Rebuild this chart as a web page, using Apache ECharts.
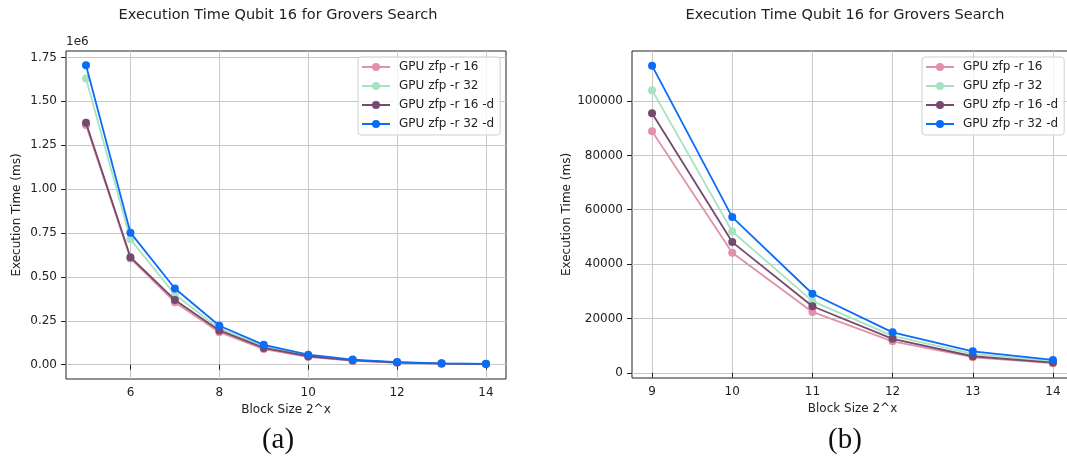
<!DOCTYPE html>
<html>
<head>
<meta charset="utf-8">
<script src="https://cdn.jsdelivr.net/npm/echarts@6/dist/echarts.min.js"></script>
<style>
  html, body { margin: 0; padding: 0; background: #fff; }
  #chart { width: 1067px; height: 461px; }
</style>
</head>
<body>
<div id="chart"></div>
<script>
// Block sizes (exponent x of 2^x) and execution times in ms
const blockSizes = [5, 6, 7, 8, 9, 10, 11, 12, 13, 14];
const zoomBlockSizes = [9, 10, 11, 12, 13, 14];

const seriesNames = ['GPU zfp -r 16', 'GPU zfp -r 32', 'GPU zfp -r 16 -d', 'GPU zfp -r 32 -d'];
const seriesColors = ['#e291a8', '#a8e2c2', '#744a6e', '#0a6cf7'];

const timeR16  = [1365000, 605000, 356000, 185000, 88900, 44200, 22400, 11600, 5740, 3550];
const timeR32  = [1630000, 714000, 400000, 205000, 104000, 52000, 26400, 13600, 6950, 4280];
const timeR16d = [1378000, 612000, 369000, 195000, 95500, 48100, 24500, 12500, 6100, 3770];
const timeR32d = [1705000, 752000, 434000, 222000, 113000, 57300, 29100, 14900, 7930, 4750];

const fullXTicks = [6, 8, 10, 12, 14];
const zoomXTicks = [9, 10, 11, 12, 13, 14];
const fullYTicks = [0, 250000, 500000, 750000, 1000000, 1250000, 1500000, 1750000];
const zoomYTicks = [0, 20000, 40000, 60000, 80000, 100000];

const chartTitle = 'Execution Time Qubit 16 for Grovers Search';
const xName = 'Block Size 2^x';
const yName = 'Execution Time (ms)';

const FONT = 'DejaVu Sans';
const INK = '#222';
const allSeries = [timeR16, timeR32, timeR16d, timeR32d];

function xAxisCfg(gridIndex, min, max, ticks) {
  return {
    gridIndex, type: 'value', min, max,
    axisLine: { show: false },
    axisTick: { show: true, length: 5, customValues: ticks, lineStyle: { color: INK, width: 1 } },
    axisLabel: { customValues: ticks, margin: 8, fontSize: 12, color: INK, fontFamily: FONT },
    splitLine: { show: true, lineStyle: { color: '#c8c8c8', width: 1 } },
    name: xName, nameLocation: 'middle', nameGap: 24,
    nameTextStyle: { fontSize: 12, color: INK, fontFamily: FONT }
  };
}

function yAxisCfg(gridIndex, min, max, ticks, fmt, gap) {
  return {
    gridIndex, type: 'value', min, max,
    axisLine: { show: false },
    axisTick: { show: true, length: 5, customValues: ticks, lineStyle: { color: INK, width: 1 } },
    axisLabel: { customValues: ticks, margin: 9, fontSize: 12, color: INK, fontFamily: FONT, formatter: fmt },
    splitLine: { show: true, lineStyle: { color: '#c8c8c8', width: 1 } },
    name: yName, nameLocation: 'middle', nameGap: gap, nameRotate: 90,
    nameTextStyle: { fontSize: 12, color: INK, fontFamily: FONT }
  };
}

function lineSeries(idx, axisIndex, xs) {
  const vals = allSeries[idx];
  return {
    type: 'line',
    name: seriesNames[idx],
    xAxisIndex: axisIndex, yAxisIndex: axisIndex,
    data: xs.map(b => [b, vals[blockSizes.indexOf(b)]]),
    symbol: 'circle', symbolSize: 8, showSymbol: true,
    lineStyle: { color: seriesColors[idx], width: 1.8 },
    itemStyle: { color: seriesColors[idx] },
    emphasis: { disabled: true },
    z: 2 + idx
  };
}

function legendCfg(left) {
  return {
    left, top: 57, orient: 'vertical', data: seriesNames,
    itemWidth: 28, itemHeight: 10, itemGap: 7,
    padding: [4, 6, 5, 3],
    borderColor: '#cfcfcf', borderWidth: 1, borderRadius: 3,
    backgroundColor: 'rgba(255,255,255,0.8)',
    selectedMode: false,
    textStyle: { fontSize: 12, color: INK, fontFamily: FONT, padding: [0, 0, 0, 4] }
  };
}

const series = [];
for (let i = 0; i < 4; i++) series.push(lineSeries(i, 0, blockSizes));
for (let i = 0; i < 4; i++) series.push(lineSeries(i, 1, zoomBlockSizes));

const chart = echarts.init(document.getElementById('chart'), null, { renderer: 'canvas' });
chart.setOption({
  animation: false,
  backgroundColor: '#fff',
  grid: [
    { left: 66, top: 51, width: 440, height: 328, outerBoundsMode: 'none', show: true, borderColor: INK, borderWidth: 1, backgroundColor: 'transparent' },
    // the right panel runs slightly past the canvas edge, so its right border falls outside
    { left: 632, top: 51, width: 441, height: 327, outerBoundsMode: 'none', show: true, borderColor: INK, borderWidth: 1, backgroundColor: 'transparent' }
  ],
  xAxis: [
    xAxisCfg(0, 4.55, 14.45, fullXTicks),
    xAxisCfg(1, 8.75, 14.25, zoomXTicks)
  ],
  yAxis: [
    yAxisCfg(0, -81500, 1786500, fullYTicks, v => (v / 1e6).toFixed(2), 43),
    yAxisCfg(1, -1900, 118400, zoomYTicks, v => String(v), 59)
  ],
  legend: [legendCfg(358), legendCfg(922)],
  graphic: [
    { type: 'text', x: 278, y: 15, style: { text: chartTitle, align: 'center', verticalAlign: 'middle', font: '14.5px "DejaVu Sans"', fill: INK } },
    { type: 'text', x: 845, y: 15, style: { text: chartTitle, align: 'center', verticalAlign: 'middle', font: '14.5px "DejaVu Sans"', fill: INK } },
    { type: 'text', x: 66, y: 42, style: { text: '1e6', align: 'left', verticalAlign: 'middle', font: '12px "DejaVu Sans"', fill: INK } },
    { type: 'text', x: 278, y: 440, style: { text: '(a)', align: 'center', verticalAlign: 'middle', font: '29px "Liberation Serif"', fill: '#111' } },
    { type: 'text', x: 845, y: 440, style: { text: '(b)', align: 'center', verticalAlign: 'middle', font: '29px "Liberation Serif"', fill: '#111' } }
  ],
  series
});
</script>
</body>
</html>
